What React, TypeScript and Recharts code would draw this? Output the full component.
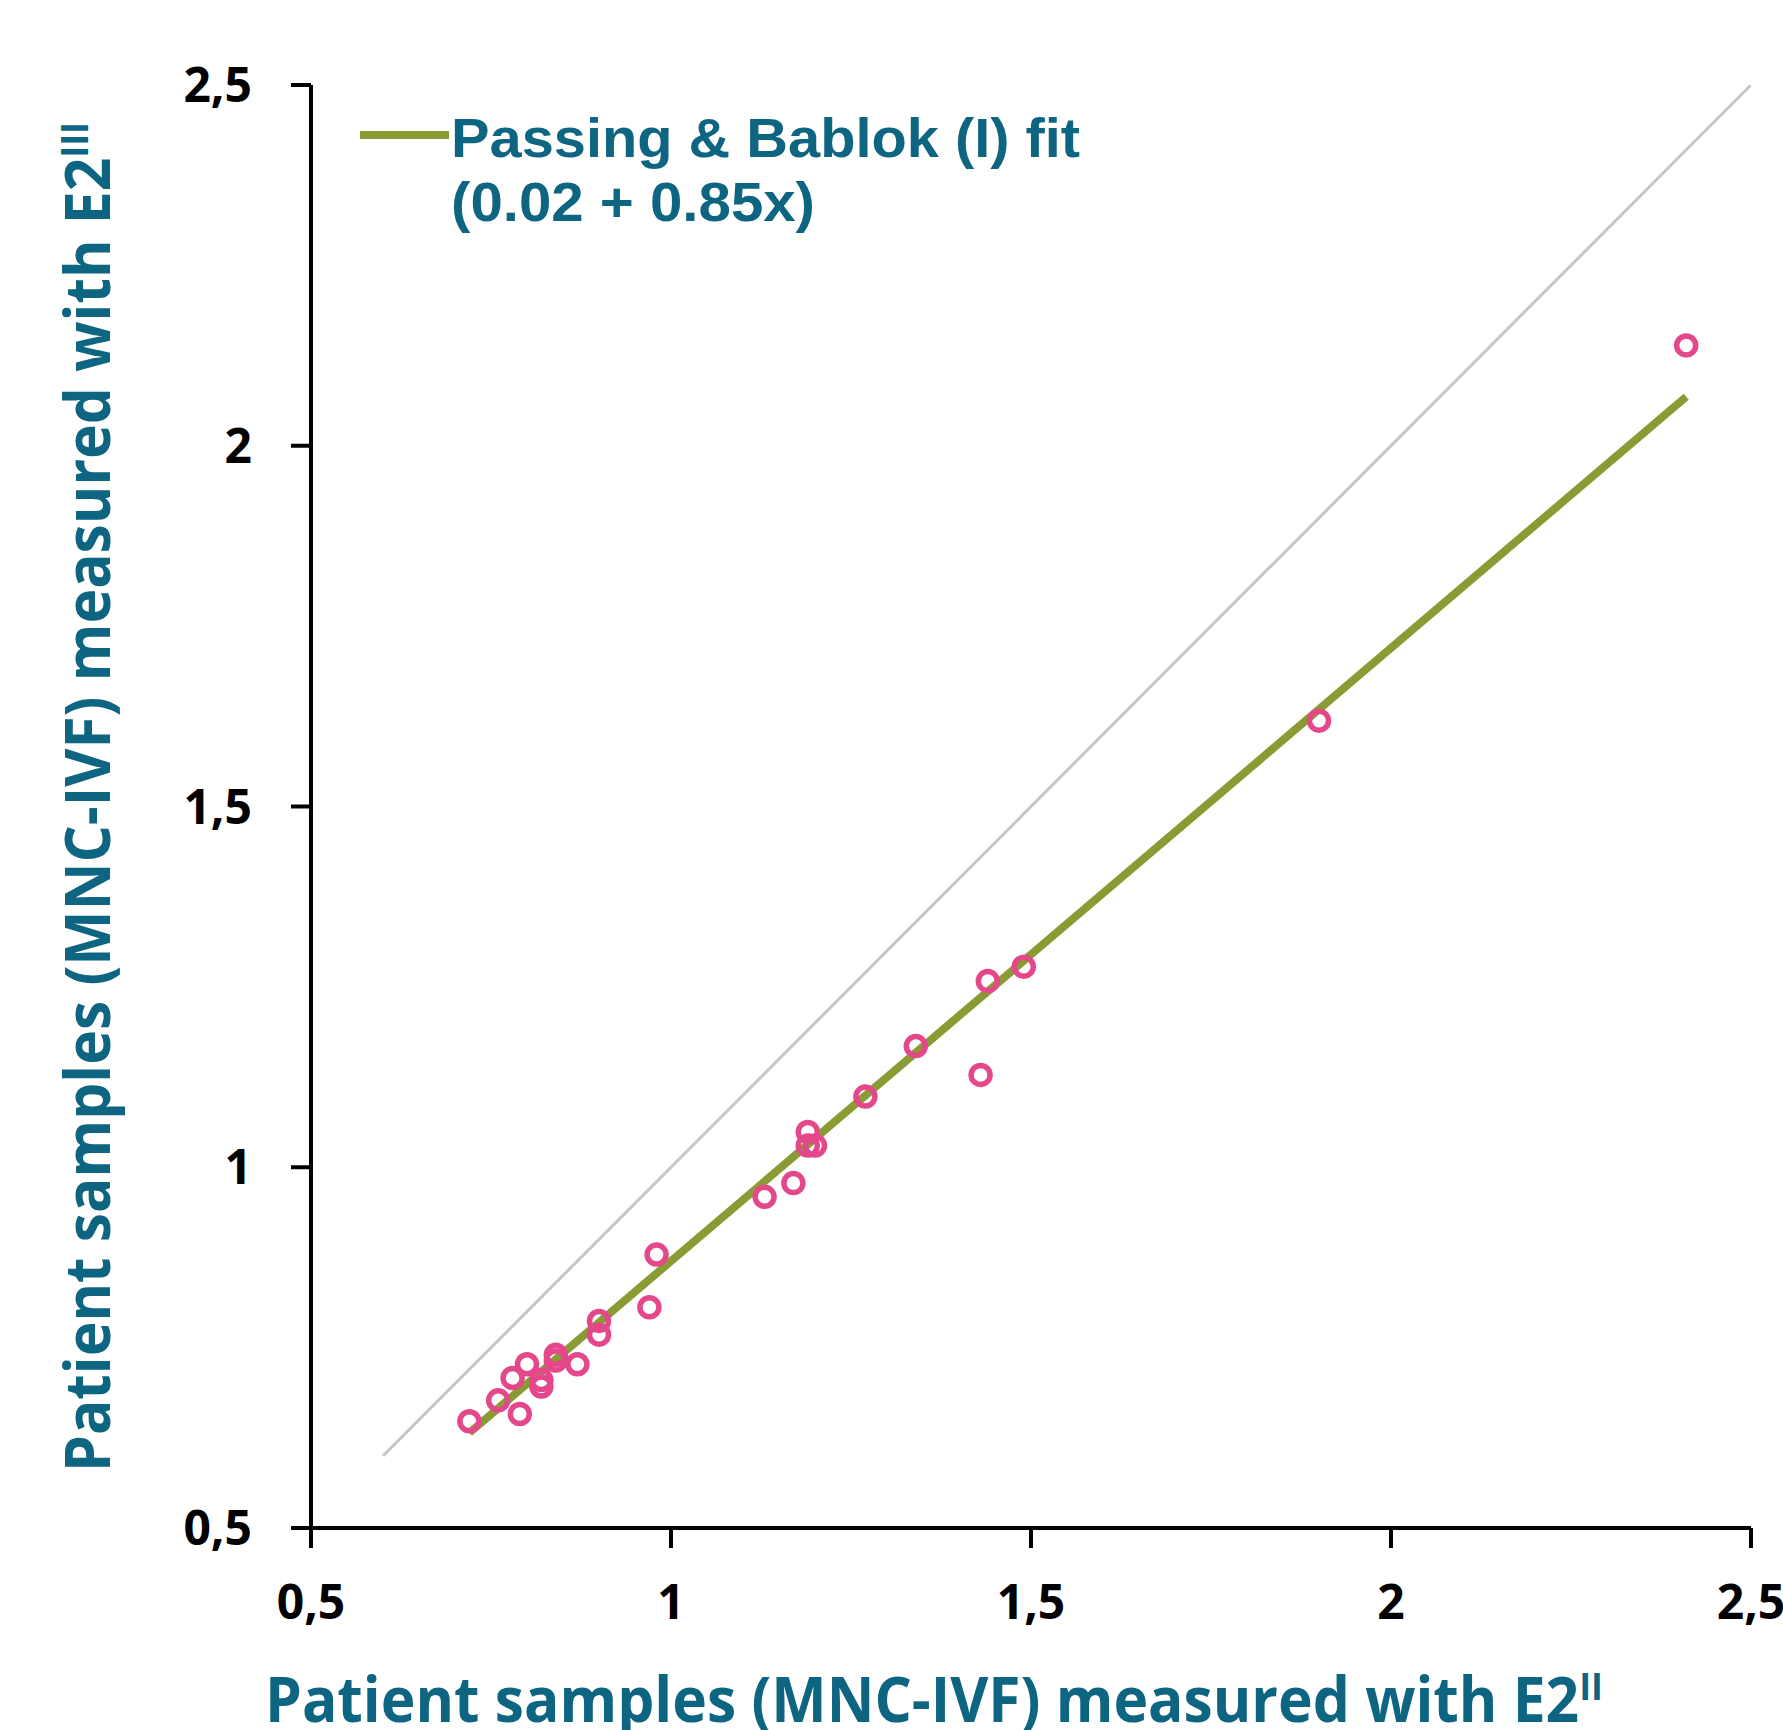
import React from "react";
import { Legend, Scatter, ScatterChart, XAxis, YAxis } from "recharts";

// values
const xValues = [0.72, 0.76, 0.79, 0.78, 0.8, 0.82, 0.82, 0.84, 0.84, 0.87, 0.9, 0.9, 0.97, 0.98, 1.13, 1.17, 1.19, 1.19, 1.2, 1.27, 1.34, 1.43, 1.44, 1.49, 1.9, 2.41];
const yValues = [0.648, 0.677, 0.658, 0.708, 0.727, 0.705, 0.696, 0.74, 0.732, 0.727, 0.787, 0.768, 0.806, 0.879, 0.959, 0.978, 1.049, 1.03, 1.03, 1.098, 1.168, 1.128, 1.258, 1.278, 1.619, 2.139];
const fitX = [0.72, 2.41];
const fitY = [0.632, 2.068];
const identityX = [0.6, 2.5];
const identityY = [0.6, 2.5];
const axisTicks = [0.5, 1, 1.5, 2, 2.5];

const legendLabel = "Passing & Bablok (I) fit";
const legendEquation = "(0.02 + 0.85x)";
const xTitle = "Patient samples (MNC-IVF) measured with E2";
const xTitleSup = "II";
const yTitle = "Patient samples (MNC-IVF) measured with E2";
const yTitleSup = "III";

const samples = xValues.map((x, i) => ({ x, y: yValues[i] }));
const fitLine = fitX.map((x, i) => ({ x, y: fitY[i] }));
const identityLine = identityX.map((x, i) => ({ x, y: identityY[i] }));

const TEAL = "#0e6582";
const GREEN = "#8a9b33";
const PINK = "#e4478a";

const fmt = (v: number) => String(v).replace(".", ",");

function Ring(props: any) {
  const { cx, cy } = props;
  if (cx == null || cy == null) return <g />;
  return <circle cx={cx} cy={cy} r={9.5} fill="none" stroke={PINK} strokeWidth={5.5} />;
}

function NoDot() {
  return <g />;
}

function LegendBox() {
  return (
    <svg width={720} height={140} style={{ overflow: "visible" }}>
      <line x1={0} y1={35} x2={89} y2={35} stroke={GREEN} strokeWidth={8} />
      <text x={91} y={57} fill={TEAL} fontFamily="Liberation Sans, Arial, sans-serif" fontWeight={700} fontSize={56} textLength={629} lengthAdjust="spacingAndGlyphs">
        {legendLabel}
      </text>
      <text x={91} y={121} fill={TEAL} fontFamily="Liberation Sans, Arial, sans-serif" fontWeight={700} fontSize={56} textLength={364} lengthAdjust="spacingAndGlyphs">
        {legendEquation}
      </text>
    </svg>
  );
}

function XTitle() {
  return (
    <text x={265} y={1722} fill={TEAL} fontFamily="Open Sans" fontWeight={700} fontSize={62} textLength={1338} lengthAdjust="spacingAndGlyphs">
      {xTitle}
      <tspan dy={-22} fontSize={38}>{xTitleSup}</tspan>
    </text>
  );
}

function YTitle() {
  return (
    <text transform="translate(110,1472) rotate(-90)" x={0} y={0} fill={TEAL} fontFamily="Open Sans" fontWeight={700} fontSize={62} textLength={1350} lengthAdjust="spacingAndGlyphs">
      {yTitle}
      <tspan dy={-22} fontSize={38}>{yTitleSup}</tspan>
    </text>
  );
}

export default function App() {
  const tickStyle = { fill: "#000", fontSize: 48, fontFamily: "Open Sans", fontWeight: 700 };
  return (
    <div style={{ position: "absolute", left: 0, top: 0, background: "#fff" }}>
      <ScatterChart width={1783} height={1730} margin={{ top: 85, right: 32, bottom: 102, left: 200 }}>
        <XAxis
          type="number"
          dataKey="x"
          domain={[0.5, 2.5]}
          ticks={axisTicks}
          interval={0}
          allowDataOverflow
          tickFormatter={fmt}
          tick={tickStyle}
          tickSize={20}
          tickMargin={37}
          axisLine={{ stroke: "#000", strokeWidth: 4 }}
          tickLine={{ stroke: "#000", strokeWidth: 4 }}
          height={100}
          label={<XTitle />}
        />
        <YAxis
          type="number"
          dataKey="y"
          domain={[0.5, 2.5]}
          ticks={axisTicks}
          interval={0}
          allowDataOverflow
          tickFormatter={fmt}
          tick={tickStyle}
          tickSize={20}
          tickMargin={39}
          axisLine={{ stroke: "#000", strokeWidth: 4 }}
          tickLine={{ stroke: "#000", strokeWidth: 4 }}
          width={111}
          label={<YTitle />}
        />
        <Legend
          layout="horizontal"
          verticalAlign="middle"
          align="center"
          wrapperStyle={{ left: 360, top: 100, width: 720, height: 140 }}
          content={() => <LegendBox />}
        />
        <Scatter data={identityLine} line={{ stroke: "#c6c6c6", strokeWidth: 3 }} shape={<NoDot />} isAnimationActive={false} legendType="none" />
        <Scatter data={fitLine} line={{ stroke: GREEN, strokeWidth: 8 }} shape={<NoDot />} isAnimationActive={false} />
        <Scatter data={samples} shape={<Ring />} isAnimationActive={false} legendType="none" />
      </ScatterChart>
    </div>
  );
}
